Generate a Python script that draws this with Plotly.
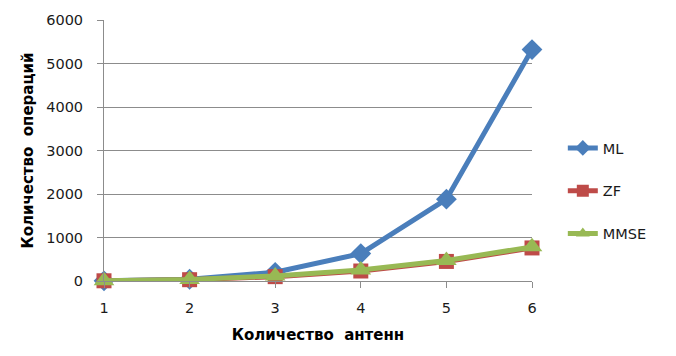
import plotly.graph_objects as go

# Number of antennas
antennas = [1, 2, 3, 4, 5, 6]

# Number of operations for each detection algorithm
ml_ops = [5, 40, 200, 630, 1880, 5320]
zf_ops = [5, 30, 100, 230, 450, 760]
mmse_ops = [5, 35, 115, 255, 470, 785]

series = [
    ("ML", ml_ops, "#4A7EBB", "diamond", 16),
    ("ZF", zf_ops, "#BE4B48", "square", 15),
    ("MMSE", mmse_ops, "#98B954", "triangle-up", 18),
]

fig = go.Figure()
for name, vals, color, symbol, msize in series:
    fig.add_trace(go.Scatter(
        x=antennas, y=vals, name=name, mode="lines+markers",
        line=dict(color=color, width=5),
        marker=dict(symbol=symbol, size=msize, color=color),
        legendgroup=name, cliponaxis=False,
    ))

grid = "#8C8C8C"
tick_font = dict(family="DejaVu Sans", size=14.5, color="#1a1a1a")
title_font = dict(family="DejaVu Sans", size=15, color="#000000")

fig.update_layout(
    width=676, height=356,
    margin=dict(l=104, r=144, t=16, b=75),
    paper_bgcolor="white", plot_bgcolor="white",
    font=tick_font,
    showlegend=True,
    legend=dict(
        x=1.072, xanchor="left", y=0.345, yanchor="middle",
        traceorder="grouped", tracegroupgap=21,
        font=dict(family="DejaVu Sans", size=14.5, color="#1a1a1a"),
        itemsizing="constant",
    ),
    xaxis=dict(
        range=[1, 6], tickvals=antennas, ticktext=[str(a) for a in antennas],
        showgrid=False, showline=True, linecolor=grid, linewidth=1,
        ticks="outside", ticklen=6, tickcolor=grid, zeroline=False,
        ticklabelstandoff=8, tickfont=tick_font,
        title=dict(text="<b>Количество  антенн</b>", font=title_font, standoff=14),
    ),
    yaxis=dict(
        range=[0, 6000], dtick=1000, showgrid=True, gridcolor=grid, gridwidth=1,
        showline=True, linecolor=grid, linewidth=1,
        ticks="outside", ticklen=6, tickcolor=grid, zeroline=False,
        ticklabelstandoff=11, tickfont=tick_font,
        title=dict(text="<b>Количество  операций</b>", font=title_font, standoff=8),
    ),
)

fig.write_html("out.html")
